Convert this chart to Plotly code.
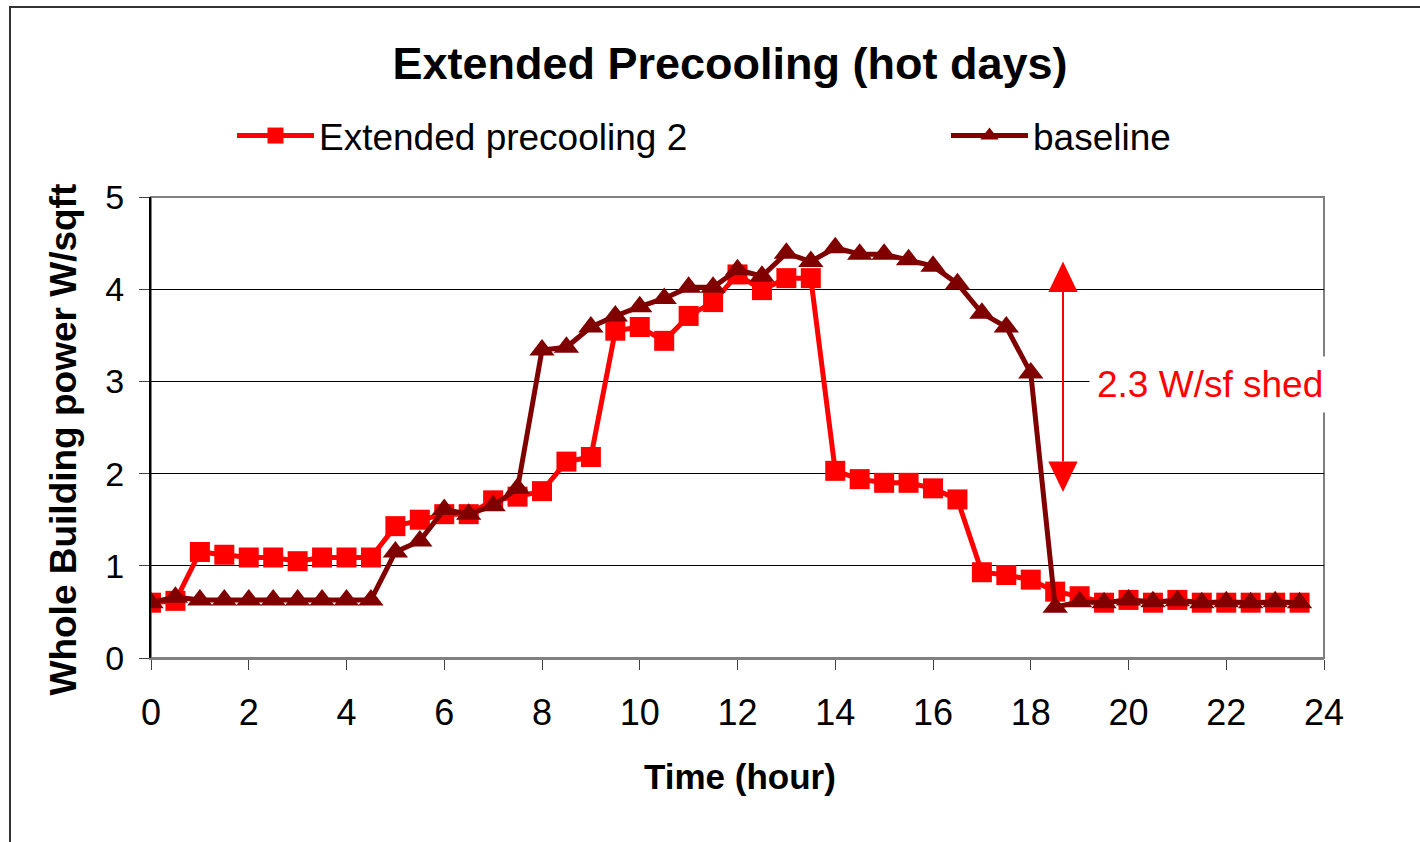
import plotly.graph_objects as go

hours = [i * 0.5 for i in range(48)]

precool2 = [0.60, 0.62, 1.15, 1.12, 1.09, 1.09, 1.05, 1.09, 1.09, 1.09,
            1.43, 1.50, 1.56, 1.56, 1.71, 1.75, 1.81, 2.13, 2.18, 3.55,
            3.59, 3.44, 3.71, 3.86, 4.16, 3.99, 4.12, 4.12, 2.03, 1.94,
            1.90, 1.90, 1.84, 1.72, 0.93, 0.90, 0.85, 0.72, 0.67, 0.60,
            0.63, 0.60, 0.63, 0.60, 0.60, 0.60, 0.60, 0.60]

baseline = [0.60, 0.66, 0.63, 0.63, 0.63, 0.63, 0.63, 0.63, 0.63, 0.63,
            1.15, 1.27, 1.61, 1.56, 1.65, 1.84, 3.34, 3.37, 3.59, 3.71,
            3.81, 3.90, 4.02, 4.02, 4.21, 4.14, 4.39, 4.30, 4.45, 4.38,
            4.38, 4.32, 4.25, 4.06, 3.74, 3.59, 3.09, 0.55, 0.61, 0.60,
            0.63, 0.61, 0.62, 0.60, 0.61, 0.60, 0.61, 0.60]

x_ticks = list(range(0, 25, 2))
y_ticks = [0, 1, 2, 3, 4, 5]

shed_label = "2.3 W/sf shed"
shed_x = 18.66
shed_top = 4.30
shed_bottom = 1.80

FONT = "Liberation Sans, Arial, sans-serif"
RED = "#FF0000"
DARK = "#800000"

fig = go.Figure()
fig.add_trace(go.Scatter(
    x=hours, y=precool2, name="Extended precooling 2", mode="lines+markers",
    line=dict(color=RED, width=5),
    marker=dict(symbol="square", size=20, color=RED, line=dict(width=0)),
    legend="legend",
))
fig.add_trace(go.Scatter(
    x=hours, y=baseline, name="baseline", mode="lines+markers",
    line=dict(color=DARK, width=5),
    marker=dict(symbol="triangle-up", size=22, color=DARK, line=dict(width=0)),
    legend="legend2",
))

# double arrow for the shed
hw, hh = 0.30, 0.33
shapes = [
    dict(type="line", xref="x", yref="y", x0=shed_x, x1=shed_x,
         y0=shed_bottom + hh, y1=shed_top - hh, line=dict(color=RED, width=2)),
    dict(type="path", xref="x", yref="y", fillcolor=RED, line=dict(width=0),
         path=f"M {shed_x-hw},{shed_top-hh} L {shed_x+hw},{shed_top-hh} L {shed_x},{shed_top} Z"),
    dict(type="path", xref="x", yref="y", fillcolor=RED, line=dict(width=0),
         path=f"M {shed_x-hw},{shed_bottom+hh} L {shed_x+hw},{shed_bottom+hh} L {shed_x},{shed_bottom} Z"),
    # plot frame (gray top/right)
    dict(type="rect", xref="paper", yref="paper", x0=0, x1=1, y0=0, y1=1,
         line=dict(color="#808080", width=2), layer="below"),
    # outer chart border
    dict(type="path", xref="paper", yref="paper",
         path="M -0.1202,-0.6 L -0.1202,1.4121 L 1.3,1.4121",
         line=dict(color="#333333", width=2)),
]

annotations = [
    dict(xref="x", yref="y", x=21.66, y=2.97, text=shed_label, showarrow=False,
         font=dict(family=FONT, size=37, color=RED), bgcolor="white", borderpad=7,
         xanchor="center", yanchor="middle"),
    dict(xref="paper", yref="paper", x=-0.075, y=0.474, text="<b>Whole Building power W/sqft</b>",
         textangle=-90, showarrow=False, font=dict(family=FONT, size=37, color="black"),
         xanchor="center", yanchor="middle"),
    dict(xref="paper", yref="paper", x=0.502, y=-0.256, text="<b>Time (hour)</b>",
         showarrow=False, font=dict(family=FONT, size=35, color="black"),
         xanchor="center", yanchor="middle"),
]

legend_common = dict(orientation="h", xref="paper", yref="paper",
                     xanchor="left", yanchor="middle",
                     font=dict(family=FONT, size=37, color="black"),
                     itemwidth=77, bgcolor="rgba(0,0,0,0)")

fig.update_layout(
    width=1420, height=842,
    margin=dict(l=151, r=96, t=197, b=184, autoexpand=False),
    paper_bgcolor="white", plot_bgcolor="white",
    font=dict(family=FONT, color="black"),
    title=dict(text="<b>Extended Precooling (hot days)</b>", xref="container", yref="container",
               x=730 / 1420, y=1 - 63 / 842, xanchor="center", yanchor="middle",
               font=dict(family=FONT, size=45, color="black")),
    showlegend=True,
    legend=dict(x=(232 - 151) / 1173, y=(658 - 136) / 461, **legend_common),
    legend2=dict(x=(946 - 151) / 1173, y=(658 - 136) / 461, **legend_common),
    shapes=shapes,
    annotations=annotations,
    xaxis=dict(range=[0, 24], tickvals=x_ticks, ticktext=[str(v) for v in x_ticks],
               showgrid=False, zeroline=False, showline=True, linecolor="#808080", linewidth=2,
               ticks="outside", ticklen=10, tickcolor="#404040", tickwidth=1,
               tickfont=dict(family=FONT, size=36, color="black"), ticklabelstandoff=12),
    yaxis=dict(range=[0, 5], tickvals=y_ticks, ticktext=[str(v) for v in y_ticks],
               showgrid=True, gridcolor="#000000", gridwidth=1, zeroline=False,
               showline=True, linecolor="#000000", linewidth=2,
               ticks="outside", ticklen=10, tickcolor="#404040", tickwidth=1,
               tickfont=dict(family=FONT, size=34, color="black"), ticklabelstandoff=8),
)

fig.write_html("out.html")
